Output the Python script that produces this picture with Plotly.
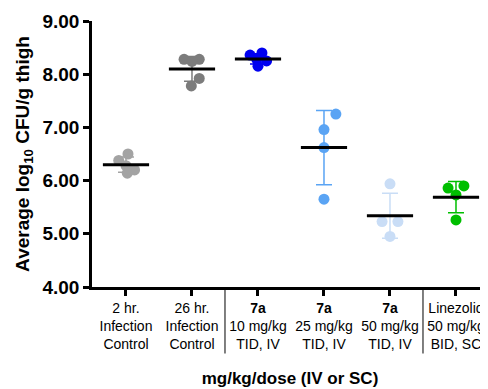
import plotly.graph_objects as go
import numpy as np

categories = [
    "2 hr.<br>Infection<br>Control",
    "26 hr.<br>Infection<br>Control",
    "<b>7a</b><br>10 mg/kg<br>TID, IV",
    "<b>7a</b><br>25 mg/kg<br>TID, IV",
    "<b>7a</b><br>50 mg/kg<br>TID, IV",
    "Linezolid<br>50 mg/kg<br>BID, SC",
]
vals_2hr = [6.50, 6.38, 6.28, 6.20, 6.14]
vals_26hr = [8.28, 8.28, 8.24, 7.92, 7.78]
vals_7a_10 = [8.36, 8.40, 8.28, 8.25, 8.15]
vals_7a_25 = [7.25, 6.96, 6.62, 5.65]
vals_7a_50 = [5.94, 5.23, 5.23, 4.95]
vals_lzd = [5.86, 5.90, 5.73, 5.26]

groups = [vals_2hr, vals_26hr, vals_7a_10, vals_7a_25, vals_7a_50, vals_lzd]

# horizontal scatter offsets (style only)
jitter = [
    [0.03, -0.11, 0.0, 0.13, 0.02],
    [-0.12, 0.11, 0.0, 0.11, -0.01],
    [-0.12, 0.06, -0.02, 0.13, 0.0],
    [0.18, 0.0, 0.0, 0.0],
    [0.0, -0.12, 0.12, 0.0],
    [-0.12, 0.12, 0.0, 0.0],
]
colors = ["#a3a3a3", "#7c7c7c", "#0000f0", "#5aa4f4", "#c9ddf6", "#00bf00"]

fig = go.Figure()
for i, (g, c) in enumerate(zip(groups, colors)):
    m = float(np.mean(g))
    sd = float(np.std(g, ddof=1))
    fig.add_trace(go.Scatter(
        x=[i], y=[m], mode="markers", marker=dict(size=1, color="rgba(0,0,0,0)"),
        error_y=dict(type="data", array=[sd], color=c, thickness=1.5, width=8),
        showlegend=False, hoverinfo="skip"))
    fig.add_trace(go.Scatter(
        x=[i + j for j in jitter[i]], y=g, mode="markers",
        marker=dict(size=11, color=c, line=dict(width=0)), showlegend=False))
    fig.add_trace(go.Scatter(
        x=[i], y=[m], mode="markers",
        marker=dict(symbol="line-ew-open", size=33, color="black",
                    line=dict(width=3, color="black")),
        showlegend=False))

for xs in [1.5, 4.5]:
    fig.add_shape(type="line", xref="x", yref="paper", x0=xs, x1=xs, y0=0, y1=-0.25,
                  line=dict(color="black", width=1))

fig.update_layout(
    width=480, height=381,
    margin=dict(l=84, r=0, t=13, b=102),
    plot_bgcolor="white", paper_bgcolor="white",
    font=dict(family="Liberation Sans, Arial", color="black"),
    xaxis=dict(
        range=[-0.515, 5.485], tickvals=list(range(6)), ticktext=categories,
        showline=True, linecolor="black", linewidth=2.5, ticks="outside", ticklen=6,
        tickwidth=2.5, tickcolor="black", showgrid=False, zeroline=False,
        automargin=False,
        tickfont=dict(size=14, color="black"),
        title=dict(text="<b>mg/kg/dose (IV or SC)</b>", font=dict(size=17), standoff=22),
    ),
    yaxis=dict(
        range=[4, 9], tickvals=[4, 5, 6, 7, 8, 9],
        ticktext=["<b>4.00</b>", "<b>5.00</b>", "<b>6.00</b>", "<b>7.00</b>", "<b>8.00</b>", "<b>9.00</b>"],
        showline=True, linecolor="black", linewidth=2.5, ticks="outside", ticklen=6,
        tickwidth=2.5, tickcolor="black", showgrid=False, zeroline=False,
        automargin=False,
        tickfont=dict(size=19, color="black"),
        title=dict(text="<b>Average log<sub>10</sub> CFU/g thigh</b>", font=dict(size=19), standoff=8),
    ),
)
fig.write_html("out.html")
